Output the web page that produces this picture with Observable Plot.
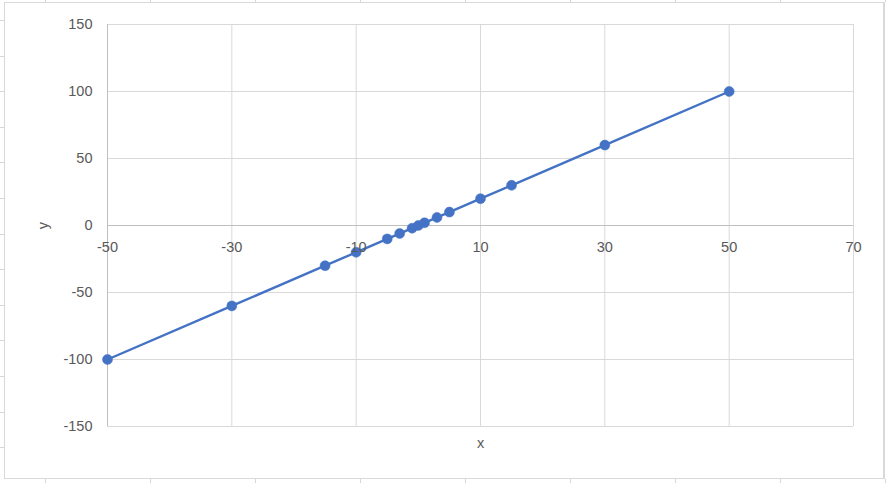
<!DOCTYPE html>
<html>
<head>
<meta charset="utf-8">
<script src="https://cdn.jsdelivr.net/npm/d3@7"></script>
<script src="https://cdn.jsdelivr.net/npm/@observablehq/plot@0.6"></script>
<style>
  html, body { margin: 0; padding: 0; background: #fff; }
  #wrap { position: relative; width: 886px; height: 483px; overflow: hidden; }
  #border { position: absolute; left: 4px; top: 2px; width: 881px; height: 477px; border: 1px solid #d9d9d9; border-right: 2px solid #d9d9d9; box-sizing: border-box; pointer-events: none; }
  #sheet { position: absolute; left: 0; top: 0; pointer-events: none; }
  svg { display: block; }
</style>
</head>
<body>
<div id="wrap">
  <svg id="sheet" width="886" height="483"></svg>
  <div id="border"></div>
</div>
<script>
const xValues = [-50, -30, -15, -10, -5, -3, -1, 0, 1, 3, 5, 10, 15, 30, 50];
const yValues = [-100, -60, -30, -20, -10, -6, -2, 0, 2, 6, 10, 20, 30, 60, 100];
const xTicks = [-50, -30, -10, 10, 30, 50, 70];
const yTicks = [-150, -100, -50, 0, 50, 100, 150];
const xTitle = "x";
const yTitle = "y";

// faint spreadsheet cell lines visible around the chart edge
const sheet = d3.select("#sheet");
for (let y = 20; y < 470; y += 35.6) {
  sheet.append("line").attr("x1", 0).attr("x2", 4).attr("y1", Math.round(y) + 0.5).attr("y2", Math.round(y) + 0.5).attr("stroke", "#d6d6d6");
}
for (let x = 45; x < 886; x += 105) {
  sheet.append("line").attr("x1", Math.round(x) + 0.5).attr("x2", Math.round(x) + 0.5).attr("y1", 0).attr("y2", 2).attr("stroke", "#d6d6d6");
  sheet.append("line").attr("x1", Math.round(x) + 0.5).attr("x2", Math.round(x) + 0.5).attr("y1", 479).attr("y2", 483).attr("stroke", "#d6d6d6");
}

const data = xValues.map((x, i) => ({x, y: yValues[i]}));
const font = "'Liberation Sans', Arial, sans-serif";

const chart = Plot.plot({
  width: 886,
  height: 483,
  marginLeft: 107,
  marginRight: 33,
  marginTop: 24,
  marginBottom: 57,
  style: {fontFamily: font, background: "transparent", position: "absolute", left: "0px", top: "0px"},
  x: {domain: [-50, 70], axis: null},
  y: {domain: [-150, 150], axis: null},
  marks: [
    Plot.ruleX(xTicks, {x: d => d, y1: -150, y2: 150, stroke: "#d9d9d9", strokeWidth: 1}),
    Plot.ruleY(yTicks, {y: d => d, x1: -50, x2: 70, stroke: "#d9d9d9", strokeWidth: 1}),
    Plot.ruleX([-50], {x: d => d, y1: -150, y2: 150, stroke: "#bfbfbf", strokeWidth: 1}),
    Plot.ruleY([0], {y: d => d, x1: -50, x2: 70, stroke: "#bfbfbf", strokeWidth: 1}),
    Plot.line(data, {x: "x", y: "y", stroke: "#4472C4", strokeWidth: 2.4}),
    Plot.dot(data, {x: "x", y: "y", r: 5, fill: "#4472C4", stroke: "#4472C4", strokeWidth: 0.5}),
    Plot.text(xTicks, {x: d => d, y: 0, dy: 22, text: d => String(d), fill: "#595959", fontSize: 14.5, fontFamily: font}),
    Plot.text(yTicks, {x: -50, y: d => d, dx: -15, text: d => String(d), textAnchor: "end", fill: "#595959", fontSize: 14.5, fontFamily: font}),
    Plot.text([xTitle], {x: 10, y: -150, dy: 17, text: d => d, fill: "#595959", fontSize: 14.5, fontFamily: font}),
    Plot.text([yTitle], {x: -50, y: 0, dx: -64, text: d => d, rotate: -90, fill: "#595959", fontSize: 14.5, fontFamily: font})
  ]
});
document.getElementById("wrap").appendChild(chart);
</script>
</body>
</html>
